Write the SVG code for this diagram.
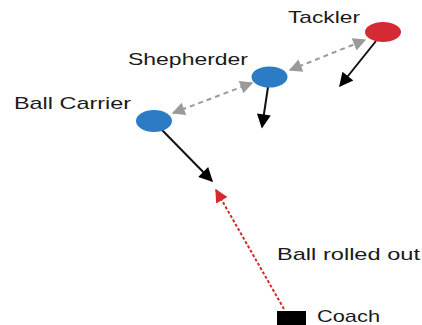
<svg xmlns="http://www.w3.org/2000/svg" width="422" height="325" viewBox="0 0 422 325">
<style>
  text { font-family: "Liberation Sans", Arial, sans-serif; font-size: 17px; fill: #1a1a1a; }
  .move { stroke: #111; stroke-width: 2; fill: none; }
  .link { stroke: #9a9a9a; stroke-width: 2; stroke-dasharray: 5 4; fill: none; }
  .ball { stroke: #d42a2a; stroke-width: 2; stroke-dasharray: 3 2; fill: none; }
</style>
<defs>
  <marker id="ahBlack" viewBox="0 0 10 10" refX="9" refY="5" markerWidth="16" markerHeight="14" markerUnits="userSpaceOnUse" orient="auto">
    <path d="M0,0 L10,5 L0,10 z" fill="#000"/>
  </marker>
  <marker id="ahGray" viewBox="0 0 10 10" refX="9" refY="5" markerWidth="17" markerHeight="13" markerUnits="userSpaceOnUse" orient="auto-start-reverse">
    <path d="M0,0 L10,5 L0,10 z" fill="#9a9a9a"/>
  </marker>
  <marker id="ahRed" viewBox="0 0 10 10" refX="9" refY="5" markerWidth="17" markerHeight="13" markerUnits="userSpaceOnUse" orient="auto">
    <path d="M0,0 L10,5 L0,10 z" fill="#d42a2a"/>
  </marker>
</defs>
<g id="connectors">
  <line class="link" x1="290" y1="70" x2="365" y2="40" marker-start="url(#ahGray)" marker-end="url(#ahGray)"/>
  <line class="link" x1="173" y1="113" x2="252" y2="83" marker-start="url(#ahGray)" marker-end="url(#ahGray)"/>
  <line class="move" x1="376" y1="41" x2="340" y2="86" marker-end="url(#ahBlack)"/>
  <line class="move" x1="268" y1="87" x2="262" y2="127" marker-end="url(#ahBlack)"/>
  <line class="move" x1="162" y1="130" x2="212" y2="181" marker-end="url(#ahBlack)"/>
  <line class="ball" x1="284" y1="309" x2="216" y2="190" marker-end="url(#ahRed)"/>
</g>
<g id="tackler">
  <ellipse cx="383" cy="32" rx="18" ry="10" fill="#d32a35"/>
  <text x="288" y="23" textLength="72" lengthAdjust="spacingAndGlyphs">Tackler</text>
</g>
<g id="shepherder">
  <ellipse cx="269.5" cy="77" rx="18" ry="10.5" fill="#2b7cc4"/>
  <text x="128" y="65" textLength="120" lengthAdjust="spacingAndGlyphs">Shepherder</text>
</g>
<g id="ball-carrier">
  <ellipse cx="154" cy="121" rx="18" ry="11" fill="#2b7cc4"/>
  <text x="14" y="109" textLength="117" lengthAdjust="spacingAndGlyphs">Ball Carrier</text>
</g>
<g id="ball-label">
  <text x="277" y="260" textLength="143" lengthAdjust="spacingAndGlyphs">Ball rolled out</text>
</g>
<g id="coach">
  <rect x="277" y="311" width="29" height="14" fill="#000"/>
  <text x="317" y="322" textLength="63" lengthAdjust="spacingAndGlyphs">Coach</text>
</g>
</svg>
